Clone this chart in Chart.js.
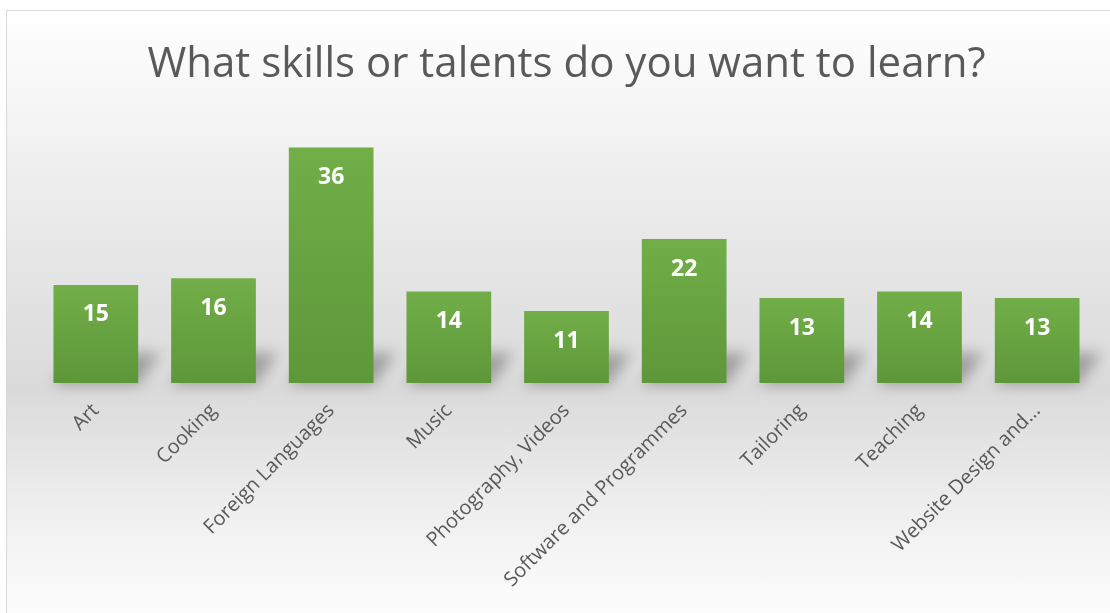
<!DOCTYPE html>
<html>
<head>
<meta charset="utf-8">
<script src="https://cdn.jsdelivr.net/npm/chart.js@4"></script>
<style>
	html, body { margin: 0; padding: 0; background: #fff; overflow: hidden; }
	#frame {
		position: absolute; left: 6px; top: 10px; width: 1120px; height: 620px;
		border: 1px solid #d9d9d9; box-sizing: border-box;
		background: linear-gradient(to bottom, #ffffff 0%, #ececec 30%, #dadada 61%, #eeeeee 80%, #ffffff 100%);
	}
	#wrap { position: absolute; left: 0; top: 0; width: 1110px; height: 613px; }
</style>
</head>
<body>
<div id="frame"></div>
<div id="wrap"><canvas id="skills"></canvas></div>
<script>
var categories = ['Art', 'Cooking', 'Foreign Languages', 'Music', 'Photography, Videos',
	'Software and Programmes', 'Tailoring', 'Teaching', 'Website Design and…'];
var counts = [15, 16, 36, 14, 11, 22, 13, 14, 13];

var titleText = 'What skills or talents do you want to learn?';

// green bars, lighter at the top
function barFill(c){
	var chart = c.chart;
	if(!chart.chartArea || c.raw == undefined) return '#68a641';
	var y = chart.scales.y;
	var top = y.getPixelForValue(c.raw);
	var base = y.getPixelForValue(0);
	var g = chart.ctx.createLinearGradient(0, top, 0, base);
	g.addColorStop(0, '#71ae48');
	g.addColorStop(1, '#5e9739');
	return g;
}

// soft shadow falling behind each bar, to the right
var barShadow = {
	id: 'barShadow',
	beforeDatasetsDraw: function(chart){
		var ctx = chart.ctx;
		var meta = chart.getDatasetMeta(0);
		ctx.save();
		ctx.filter = 'blur(7px)';
		ctx.fillStyle = 'rgba(0,0,0,0.28)';
		meta.data.forEach(function(bar){
			var l = bar.x - bar.width / 2, r = bar.x + bar.width / 2;
			ctx.beginPath();
			ctx.moveTo(l, bar.base + 2);
			ctx.lineTo(r, bar.base + 2);
			ctx.lineTo(r + 22, bar.base - 30);
			ctx.lineTo(l + 22, bar.base - 30);
			ctx.closePath();
			ctx.fill();
		});
		ctx.restore();
	}
};

// value written inside the top of each bar
var barValues = {
	id: 'barValues',
	afterDatasetsDraw: function(chart){
		var ctx = chart.ctx;
		var meta = chart.getDatasetMeta(0);
		ctx.save();
		ctx.fillStyle = '#ffffff';
		ctx.font = 'bold 23px "Open Sans"';
		ctx.textAlign = 'center';
		ctx.textBaseline = 'middle';
		meta.data.forEach(function(bar, i){
			ctx.fillText(String(counts[i]), bar.x, bar.y + 30);
		});
		ctx.restore();
	}
};

var ctx = document.getElementById('skills').getContext('2d');
var myChart = new Chart(ctx, {
	type: 'bar',
	data: {
		labels: categories,
		datasets: [{
			label: 'Responses',
			data: counts,
			backgroundColor: barFill,
			borderWidth: 0,
			barPercentage: 0.72,
			categoryPercentage: 1.0
		}]
	},
	plugins: [barShadow, barValues],
	options: {
		responsive: true,
		maintainAspectRatio: false,
		animation: false,
		layout: { padding: { left: 37, right: 14, top: 0, bottom: 0 } },
		plugins: {
			legend: { display: false },
			tooltip: { enabled: false },
			title: {
				display: true,
				text: titleText,
				color: '#595959',
				font: { family: '"Open Sans"', size: 42, weight: 'normal' },
				padding: { top: 40, bottom: 31 }
			}
		},
		scales: {
			x: {
				grid: { display: false },
				border: { display: false },
				afterFit: function(s){ s.height = 230; },
				ticks: {
					color: '#595959',
					font: { family: '"Open Sans"', size: 20 },
					minRotation: 45,
					maxRotation: 45,
					autoSkip: false,
					padding: 8
				}
			},
			y: {
				display: false,
				min: 0,
				max: 40
			}
		}
	}
});
</script>
</body>
</html>
